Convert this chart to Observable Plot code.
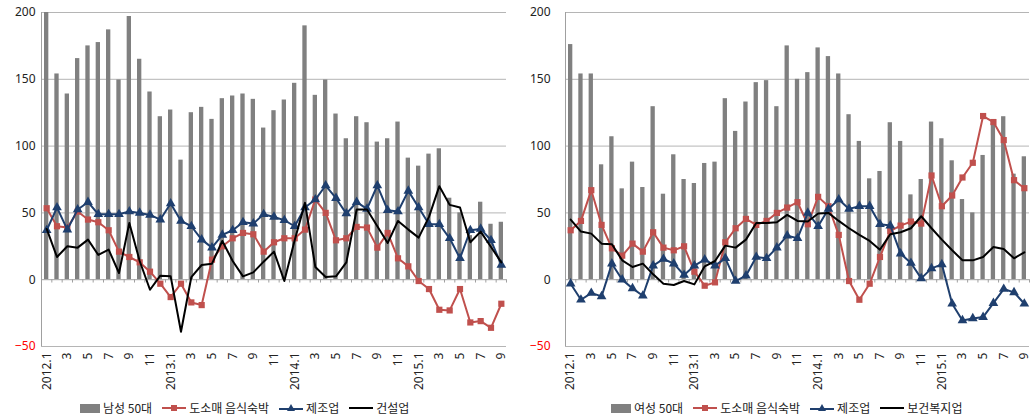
<!DOCTYPE html>
<html><head><meta charset="utf-8">
<script src="https://cdn.jsdelivr.net/npm/d3@7"></script>
<script src="https://cdn.jsdelivr.net/npm/@observablehq/plot@0.6"></script>
<style>
body{margin:0;background:#fff;font-family:"Noto Sans CJK KR","Noto Sans",sans-serif;}
#wrap{position:relative;width:1030px;height:420px;overflow:hidden;background:#fff}
.panel{position:absolute;top:0;width:515px;height:395px}
.legend{position:absolute;top:400px;height:16px;display:flex;align-items:center;font-size:12px;color:#222;white-space:nowrap;line-height:16px}
.legend .item{display:inline-flex;align-items:center;margin-right:10px}
.legend svg{margin-right:3px}
</style></head><body><div id="wrap"></div>
<script>
const months = ["2012.1","2012.2","2012.3","2012.4","2012.5","2012.6","2012.7","2012.8","2012.9","2012.10","2012.11","2012.12",
"2013.1","2013.2","2013.3","2013.4","2013.5","2013.6","2013.7","2013.8","2013.9","2013.10","2013.11","2013.12",
"2014.1","2014.2","2014.3","2014.4","2014.5","2014.6","2014.7","2014.8","2014.9","2014.10","2014.11","2014.12",
"2015.1","2015.2","2015.3","2015.4","2015.5","2015.6","2015.7","2015.8","2015.9"];
const xTickLabels = ["2012.1","2012.3","2012.5","2012.7","2012.9","2012.11","2013.1","2013.3","2013.5","2013.7","2013.9","2013.11",
"2014.1","2014.3","2014.5","2014.7","2014.9","2014.11","2015.1","2015.3","2015.5","2015.7","2015.9"];
const yTicks = [0, 50, 100, 150, 200];
const yTicksNeg = [-50];
const gridValues = [-50, 50, 100, 150, 200];

// Left panel
const male50 = [200,154,139,165.5,175,177.5,187,149.5,197,165,140.5,122,127,89.5,125,129,120,135.5,137.5,139,
135,113.5,126.5,134.5,147,190,138,149.5,124,105.5,122,117.5,103,105.5,118,91,85,94,98,61,50,33,58,41.5,43];
const maleRetail = [53.5,40,39,51,45,43,37,21,17,13,6,-3,-13,-3,-17,-19,15,25,31,35,34,21,28,
31,31,37.5,60,50,29.5,31,39.5,39,24,35,16,10,-1,-7,-22.5,-23,-7,-32,-31,-36,-18];
const maleMfg = [37,54,37.5,52.5,58,49,49,49,51,50,48.5,45,57,44,40,30,24,33.5,37,43,42,49,
47,44.5,40,54,60,70.5,61,49.5,58,53,70.5,52,51,66.5,54,41.5,41.5,31,16,37,38,29.5,11];
const maleConst = [38,17,25,24,30,18.5,22.5,5,42.5,14,-7.5,3,2.5,-39,2,11,12,29,14,2.5,5.5,13.5,
21,-1,29.5,57.5,9.5,2,2.5,13,52.5,52.5,40,27.5,44,37.5,31.5,47,70,56,54,28,36,24.5,13];

// Right panel
const female50 = [176,154,154,86,107,68,88,69,129.5,64,93.5,75,72,87,88,135.5,111,133,147.5,149,
129.5,175,150,155,173.5,167,154,123.5,103.5,75.5,81,117.5,103.5,63.5,75,118,105.5,89,60,50,93,117,122,79,92];
const femaleRetail = [37,44,67,41,23.5,18,27,21,35.5,24,22,25,6,-4.5,-2,28,38.5,45.5,41,44,50,54,58,
41.5,62,55,33.5,-1,-15,-3,17,36.5,40.5,43.5,42,78,55,63,76.5,87.5,122.5,118,104.5,74.5,68.5];
const femaleMfg = [-3,-15,-10,-12.5,12,0,-6.5,-12,10.5,15.5,12,3.5,10.5,15,10.5,16,-1,3,17,16,24,33,31,
50,40,53,60,53,55,55,41.5,40.5,19.5,12.5,1,8.5,11.5,-18,-30.5,-29,-28,-17.5,-7,-9.5,-18];
const femaleHealth = [45,36,34.5,27,26.5,14.5,9.5,12,4,-3,-4,-1,-3.5,10,14,25.5,24,30,42.5,42.5,43,48.5,44,
43.5,49.5,50,44,38.5,33.5,29,22.5,34,35.5,38.5,47.5,38.5,30,22,14.5,14.5,17,24.5,23,16,20.5];

const legendLeft = ["남성 50대","도소매 음식숙박","제조업","건설업"];
const legendRight = ["여성 50대","도소매 음식숙박","제조업","보건복지업"];

const RED = "#C0504D", NAVY = "#1F3F6E", BAR = "#808080", GRID = "#b5b5b5", AXIS = "#a0a0a0";
const FONT = "'Noto Sans', 'Noto Sans CJK KR', sans-serif";

function fmtMonth(m) {
  const [yr, mo] = m.split(".");
  return mo === "1" ? m : mo;
}

function makePanel(bars, retail, mfg, third, marginLeft, marginRight, tickPad) {
  const rows = months.map((m, i) => ({m, bar: bars[i], retail: retail[i], mfg: mfg[i], third: third[i]}));
  const W = 515;
  const halfStep = (W - marginLeft - marginRight) / months.length / 2;
  return Plot.plot({
    width: W, height: 395,
    marginTop: 12, marginBottom: 49, marginLeft, marginRight,
    style: {fontFamily: FONT, fontSize: "12px", background: "white", overflow: "visible"},
    x: {type: "band", domain: months, padding: 0, round: false, axis: null},
    y: {domain: [-50, 200], axis: null},
    marks: [
      Plot.ruleY(gridValues, {stroke: GRID, strokeWidth: 1}),
      Plot.barY(rows, {x: "m", y: "bar", fill: BAR, insetLeft: 3, insetRight: 3}),
      Plot.ruleY([0], {stroke: AXIS}),
      Plot.ruleX(months, {x: d => d, y1: 0, y2: -2.5, dx: halfStep, stroke: AXIS}),
      Plot.ruleX([months[0]], {dx: -halfStep, stroke: AXIS}),
      Plot.line(rows, {x: "m", y: "retail", stroke: RED, strokeWidth: 2}),
      Plot.dot(rows, {x: "m", y: "retail", symbol: "square", r: 3.5, fill: RED, stroke: "none"}),
      Plot.line(rows, {x: "m", y: "mfg", stroke: NAVY, strokeWidth: 2}),
      Plot.dot(rows, {x: "m", y: "mfg", symbol: "triangle", r: 3.6, fill: NAVY, stroke: "none"}),
      Plot.line(rows, {x: "m", y: "third", stroke: "#000", strokeWidth: 2}),
      Plot.axisY(yTicks, {tickSize: 0, tickPadding: tickPad, fill: "#222", fontSize: 12, label: null}),
      Plot.axisY(yTicksNeg, {tickSize: 0, tickPadding: tickPad, fill: "#ff0000", fontSize: 12, label: null}),
      Plot.axisX(xTickLabels, {tickSize: 0, tickPadding: 6, tickRotate: -90, tickFormat: fmtMonth, fill: "#222", fontSize: 12, label: null})
    ]
  });
}

function swatch(kind) {
  const ns = "http://www.w3.org/2000/svg";
  const s = document.createElementNS(ns, "svg");
  if (kind === "bar") {
    s.setAttribute("width", 20); s.setAttribute("height", 9);
    s.innerHTML = `<rect x="0" y="0" width="20" height="9" fill="${BAR}"/>`;
  } else if (kind === "red") {
    s.setAttribute("width", 24); s.setAttribute("height", 10);
    s.innerHTML = `<line x1="0" x2="24" y1="5" y2="5" stroke="${RED}" stroke-width="2"/><rect x="9" y="2" width="6" height="6" fill="${RED}"/>`;
  } else if (kind === "navy") {
    s.setAttribute("width", 24); s.setAttribute("height", 10);
    s.innerHTML = `<line x1="0" x2="24" y1="6" y2="6" stroke="${NAVY}" stroke-width="2"/><path d="M12,1 L16,8 L8,8 Z" fill="${NAVY}"/>`;
  } else {
    s.setAttribute("width", 24); s.setAttribute("height", 10);
    s.innerHTML = `<line x1="0" x2="24" y1="5" y2="5" stroke="#000" stroke-width="2"/>`;
  }
  return s;
}

function makeLegend(labels, left) {
  const d = document.createElement("div");
  d.className = "legend";
  d.style.left = left + "px";
  const kinds = ["bar", "red", "navy", "black"];
  labels.forEach((t, i) => {
    const it = document.createElement("span");
    it.className = "item";
    it.appendChild(swatch(kinds[i]));
    const tx = document.createElement("span");
    tx.textContent = t;
    it.appendChild(tx);
    d.appendChild(it);
  });
  return d;
}

const wrap = document.getElementById("wrap");
const p1 = document.createElement("div"); p1.className = "panel"; p1.style.left = "0px";
p1.appendChild(makePanel(male50, maleRetail, maleMfg, maleConst, 41, 9, 6));
const p2 = document.createElement("div"); p2.className = "panel"; p2.style.left = "515px";
p2.appendChild(makePanel(female50, femaleRetail, femaleMfg, femaleHealth, 50, 1, 15));
wrap.appendChild(p1); wrap.appendChild(p2);
wrap.appendChild(makeLegend(legendLeft, 80));
wrap.appendChild(makeLegend(legendRight, 611));
</script>
</body></html>
